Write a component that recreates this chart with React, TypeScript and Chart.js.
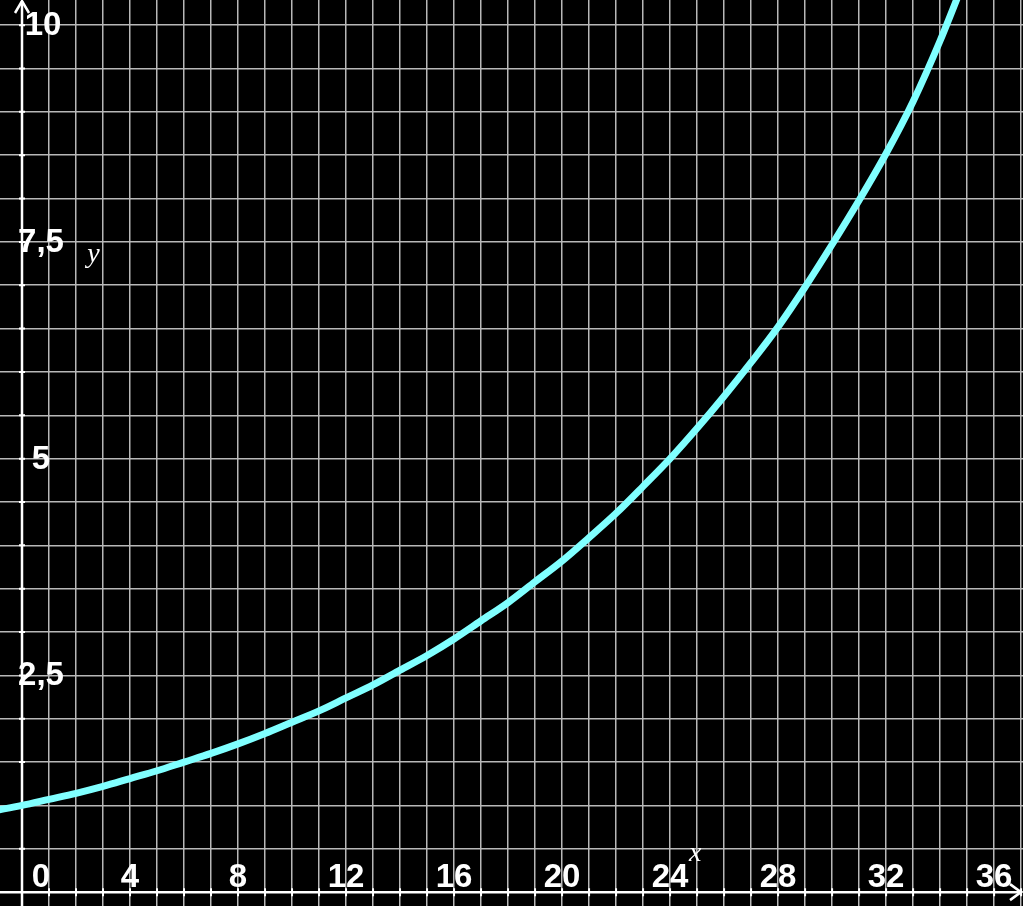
import { useEffect, useRef } from 'react';
import { Chart, registerables } from 'chart.js';

Chart.register(...registerables);

// curve, one point per unit of x
const xValues = [
  -1, 0, 1, 2, 3, 4, 5, 6, 7, 8, 9, 10, 11, 12, 13, 14, 15, 16, 17, 18,
  19, 20, 21, 22, 23, 24, 25, 26, 27, 28, 29, 30, 31, 32, 33, 34, 35,
];
const yValues = [
  0.94, 1.0, 1.07, 1.14, 1.22, 1.31, 1.4, 1.5, 1.6, 1.71, 1.83, 1.96, 2.09,
  2.24, 2.39, 2.56, 2.73, 2.92, 3.13, 3.34, 3.58, 3.82, 4.09, 4.37, 4.68, 5.0,
  5.35, 5.72, 6.11, 6.52, 6.98, 7.47, 7.98, 8.52, 9.12, 9.82, 10.6,
];

const xTickValues = [0, 4, 8, 12, 16, 20, 24, 28, 32, 36];
const xTickLabels = ['0', '4', '8', '12', '16', '20', '24', '28', '32', '36'];
const yTickValues = [2.5, 5, 7.5, 10];
const yTickLabels = ['2,5', '5', '7,5', '10'];

const X_MIN = -0.815;
const X_MAX = 37.07;
const Y_MIN = -0.16;
const Y_MAX = 10.29;

const GRID = '#b8b8b8';
const LABEL_FONT = 'bold 33px "Liberation Sans", Arial, sans-serif';
const NAME_FONT = 'italic 28px "Liberation Serif", "Times New Roman", serif';

const axesPlugin = {
  id: 'axes',
  beforeDatasetsDraw(chart: any) {
    const { ctx, chartArea } = chart;
    const xs = chart.scales.x;
    const ys = chart.scales.y;
    const x0 = xs.getPixelForValue(0);
    const y0 = ys.getPixelForValue(0);
    ctx.save();
    ctx.strokeStyle = '#ffffff';
    ctx.lineWidth = 2.5;
    ctx.lineCap = 'butt';
    ctx.beginPath();
    ctx.moveTo(chartArea.left, y0);
    ctx.lineTo(chartArea.right - 2, y0);
    ctx.moveTo(x0, chartArea.bottom);
    ctx.lineTo(x0, chartArea.top + 1);
    ctx.stroke();

    // small tick marks on both axes
    ctx.lineWidth = 2;
    ctx.beginPath();
    for (let v = 1; v <= 37; v++) {
      const px = xs.getPixelForValue(v);
      ctx.moveTo(px, y0 - 4);
      ctx.lineTo(px, y0 + 4);
    }
    for (let v = 0.5; v <= 10; v += 0.5) {
      const py = ys.getPixelForValue(v);
      ctx.moveTo(x0 - 3, py);
      ctx.lineTo(x0 + 3, py);
    }
    ctx.stroke();

    // arrow heads
    ctx.lineWidth = 2.5;
    ctx.beginPath();
    ctx.moveTo(x0 - 7, chartArea.top + 13);
    ctx.lineTo(x0, chartArea.top + 1);
    ctx.lineTo(x0 + 7, chartArea.top + 13);
    ctx.moveTo(chartArea.right - 13, y0 - 8);
    ctx.lineTo(chartArea.right - 2, y0);
    ctx.lineTo(chartArea.right - 13, y0 + 8);
    ctx.stroke();
    ctx.restore();
  },
  afterDatasetsDraw(chart: any) {
    const { ctx } = chart;
    const xs = chart.scales.x;
    const ys = chart.scales.y;
    const x0 = xs.getPixelForValue(0);
    const y0 = ys.getPixelForValue(0);
    ctx.save();
    ctx.fillStyle = '#ffffff';
    ctx.font = LABEL_FONT;
    ctx.textAlign = 'center';
    ctx.textBaseline = 'alphabetic';
    xTickValues.forEach((v, i) => {
      let px = xs.getPixelForValue(v);
      if (v === 0) px += 19;
      ctx.fillText(xTickLabels[i], px, y0 - 5);
    });
    ctx.textBaseline = 'middle';
    yTickValues.forEach((v, i) => {
      const dx = v === 10 ? 21 : 19;
      ctx.fillText(yTickLabels[i], x0 + dx, ys.getPixelForValue(v) + 1);
    });
    ctx.font = NAME_FONT;
    ctx.fillText('y', xs.getPixelForValue(2.65), ys.getPixelForValue(7.35));
    ctx.fillText('x', xs.getPixelForValue(24.93), ys.getPixelForValue(0.44));
    ctx.restore();
  },
};

export default function App() {
  const canvasRef = useRef<HTMLCanvasElement>(null);

  useEffect(() => {
    document.body.style.margin = '0';
    document.body.style.background = '#000';
    if (!canvasRef.current) return;

    const chart = new Chart(canvasRef.current, {
      type: 'scatter',
      data: {
        datasets: [
          {
            data: xValues.map((x, i) => ({ x, y: yValues[i] })),
            showLine: true,
            borderColor: '#80ffff',
            borderWidth: 7,
            pointRadius: 0,
            cubicInterpolationMode: 'monotone',
          },
        ],
      },
      options: {
        responsive: true,
        maintainAspectRatio: false,
        animation: false,
        layout: { padding: 0 },
        plugins: {
          legend: { display: false },
          tooltip: { enabled: false },
        },
        scales: {
          x: {
            type: 'linear',
            min: X_MIN,
            max: X_MAX,
            border: { display: false },
            grid: { color: GRID, lineWidth: 1.5, drawTicks: false },
            ticks: { display: false },
            afterBuildTicks: (scale: any) => {
              const t = [];
              for (let v = 0; v <= 37; v++) t.push({ value: v });
              scale.ticks = t;
            },
          },
          y: {
            type: 'linear',
            min: Y_MIN,
            max: Y_MAX,
            border: { display: false },
            grid: { color: GRID, lineWidth: 1.5, drawTicks: false },
            ticks: { display: false },
            afterBuildTicks: (scale: any) => {
              const t = [];
              for (let v = 0; v <= 10; v += 0.5) t.push({ value: v });
              scale.ticks = t;
            },
          },
        },
      },
      plugins: [axesPlugin],
    });

    return () => {
      chart.destroy();
    };
  }, []);

  return (
    <div style={{ width: 1023, height: 906, background: '#000', position: 'relative' }}>
      <canvas ref={canvasRef} />
    </div>
  );
}
